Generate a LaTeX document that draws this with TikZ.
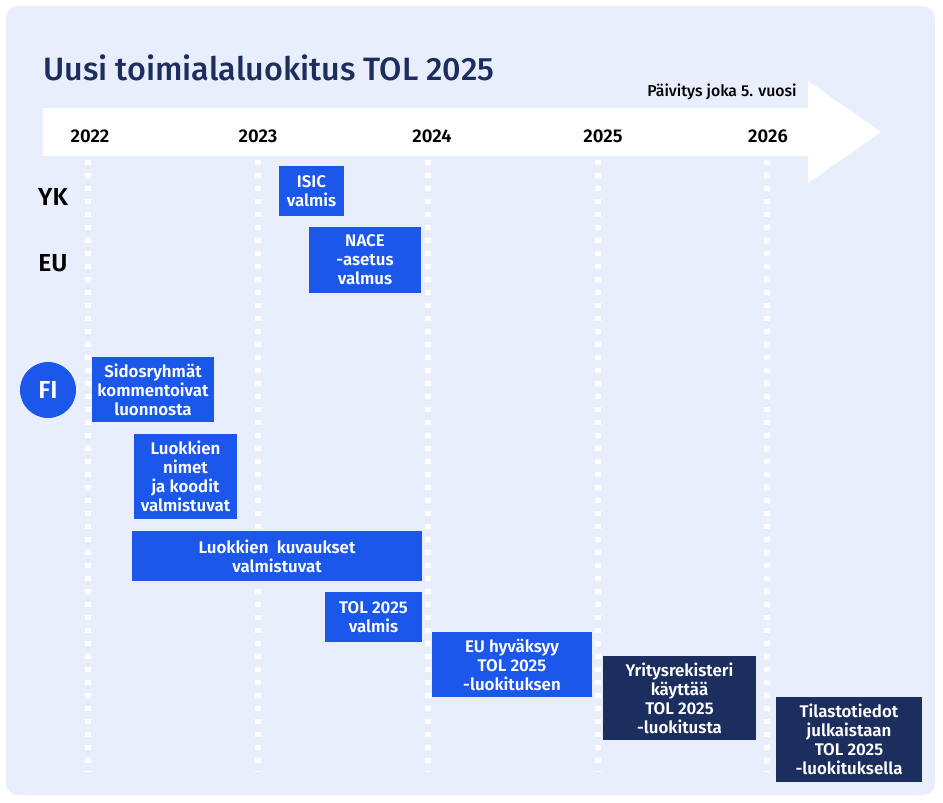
\documentclass[tikz,border=0pt]{standalone}
\usepackage{fontspec}
\setmainfont{Fira Sans}[BoldFont={Fira Sans SemiBold}]
\newfontfamily\otsikkofont{Fira Sans Medium}
\usetikzlibrary{positioning}
\definecolor{taustasin}{HTML}{E8EEFC}
\definecolor{kirkassin}{HTML}{1B57EB}
\definecolor{tummasin}{HTML}{1C2E5E}
\tikzset{
    vaihe/.style={
        rectangle,                 % perusmuoto: suorakulmio
        fill=#1,                   % täyttö annetulla värillä
        text=white,                % valkoinen teksti
        inner sep=0pt,             % koko tulee minimimitoista
        align=center,              % rivit keskitetään
        font=\bfseries\fontsize{9.6}{10.8}\selectfont
    },
    vaihe/.default=kirkassin,
    vuosi/.style={
        font=\bfseries\fontsize{10.5}{12}\selectfont
    },
    taso/.style={
        font=\bfseries\fontsize{14}{16}\selectfont
    },
    vuosiviiva/.style={
        draw=white,
        line width=2.9pt,
        dash pattern=on 2.9pt off 4.5pt % valkoiset neliöpisteet
    }
}
\begin{document}
\begin{tikzpicture}[x=0.02cm,y=-0.02cm]
    \useasboundingbox (0,0) rectangle (943,802);
    \fill[taustasin, rounded corners=0.24cm] (6,6) rectangle (935,795);
    \node[anchor=base west, inner sep=0pt, text=tummasin, font=\otsikkofont\fontsize{18.4}{22}\selectfont] (otsikko) at (43,80) {Uusi toimialaluokitus TOL 2025};
    % aikajanan nuoli
    \fill[white] (43,108) -- (808,108) -- (808,81) -- (881,132) -- (808,183) -- (808,156) -- (43,156) -- cycle;
    \node[anchor=east, inner sep=0pt, font=\otsikkofont\fontsize{9}{11}\selectfont] (jakso) at (797,92) {Päivitys joka 5. vuosi};
    \node[vuosi] (v2022) at (90,136) {2022};
    \node[vuosi] (v2023) at (258,136) {2023};
    \node[vuosi] (v2024) at (432,136) {2024};
    \node[vuosi] (v2025) at (603,136) {2025};
    \node[vuosi] (v2026) at (768,136) {2026};
    \draw[vuosiviiva] (88,160) -- (88,772);
    \draw[vuosiviiva] (258,160) -- (258,772);
    \draw[vuosiviiva] (428,160) -- (428,772);
    \draw[vuosiviiva] (598,160) -- (598,772);
    \draw[vuosiviiva] (767,160) -- (767,772);
    % tasot
    \node[taso] (yk) at (53,197) {YK};
    \node[taso] (eu) at (53,263) {EU};
    \node[circle, fill=kirkassin, text=white, minimum size=1.12cm, inner sep=0pt, font=\bfseries\fontsize{14}{16}\selectfont] (fi) at (48,390) {FI};
    % vaiheet
    \node[vaihe, minimum width=1.30cm, minimum height=1.00cm] (isic) at (311.5,191) {ISIC\\valmis};
    \node[vaihe, minimum width=2.24cm, minimum height=1.32cm] (nace) at (365,260) {NACE\\-asetus\\valmus};
    \node[vaihe, minimum width=2.44cm, minimum height=1.30cm] (sidos) at (153,389.5) {Sidosryhmät\\kommentoivat\\luonnosta};
    \node[vaihe, minimum width=2.06cm, minimum height=1.70cm] (nimet) at (185.5,476.5) {Luokkien\\nimet\\ja koodit\\valmistuvat};
    \node[vaihe, minimum width=5.80cm, minimum height=1.00cm] (kuvaus) at (277,556) {Luokkien\ \ kuvaukset\\valmistuvat};
    \node[vaihe, minimum width=1.94cm, minimum height=1.00cm] (tolvalmis) at (373.5,617) {TOL 2025\\valmis};
    \node[vaihe, minimum width=3.20cm, minimum height=1.30cm] (euhyv) at (512,664.5) {EU hyväksyy\\TOL 2025\\-luokituksen};
    \node[vaihe=tummasin, minimum width=3.06cm, minimum height=1.68cm] (yritys) at (679.5,698) {Yritysrekisteri\\käyttää\\TOL 2025\\-luokitusta};
    \node[vaihe=tummasin, minimum width=2.92cm, minimum height=1.70cm] (tilasto) at (849,739.5) {Tilastotiedot\\julkaistaan\\TOL 2025\\-luokituksella};
\end{tikzpicture}
\end{document}
